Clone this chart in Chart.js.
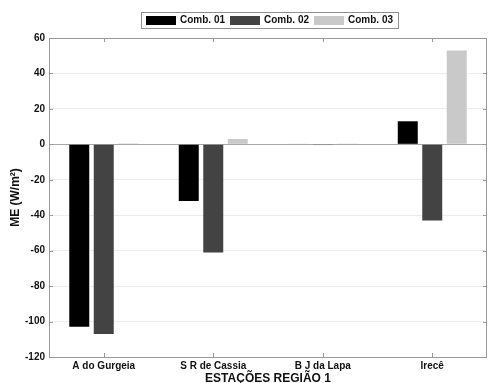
<!DOCTYPE html>
<html>
<head>
<meta charset="utf-8">
<script src="https://cdn.jsdelivr.net/npm/chart.js@4/dist/chart.umd.min.js"></script>
<style>
  html, body { margin: 0; padding: 0; background: #fff; }
  #wrap { width: 488px; height: 383px; position: relative; }
</style>
</head>
<body>
<div id="wrap"><canvas id="c" width="488" height="383"></canvas></div>
<script>
// Stations of region 1 and mean error per combination (W/m²)
const stations = ['A do Gurgeia', 'S R de Cassia', 'B J da Lapa', 'Irecê'];
const comb01 = [-103, -32, 0.3, 13];
const comb02 = [-107, -61, -0.4, -43];
const comb03 = [0.5, 3, 0.4, 53];
const seriesNames = ['Comb. 01', 'Comb. 02', 'Comb. 03'];
const seriesColors = ['#000000', '#434343', '#c9c9c9'];
const yTicks = { min: -120, max: 60, step: 20 };

const FONT = 'Liberation Sans, Arial, Helvetica, sans-serif';
const AXIS_COLOR = '#9a9a9a';

// Box around the plot, inward tick marks and the zero baseline
const framePlugin = {
  id: 'frame',
  beforeDatasetsDraw(chart) {
    const { ctx, chartArea: a, scales: { y } } = chart;
    ctx.save();
    ctx.strokeStyle = '#a8a8a8';
    ctx.lineWidth = 1;
    const y0 = Math.round(y.getPixelForValue(0)) + 0.5;
    ctx.beginPath();
    ctx.moveTo(a.left, y0);
    ctx.lineTo(a.right, y0);
    ctx.stroke();
    ctx.restore();
  },
  afterDatasetsDraw(chart) {
    const { ctx, chartArea: a, scales: { x, y } } = chart;
    ctx.save();
    ctx.strokeStyle = AXIS_COLOR;
    ctx.lineWidth = 1;
    ctx.strokeRect(Math.round(a.left) + 0.5, Math.round(a.top) + 0.5,
                   Math.round(a.right - a.left) - 1, Math.round(a.bottom - a.top));
    const len = 4;
    ctx.beginPath();
    stations.forEach((s, i) => {
      const px = Math.round(x.getPixelForValue(i)) + 0.5;
      ctx.moveTo(px, a.bottom); ctx.lineTo(px, a.bottom - len);
      ctx.moveTo(px, a.top); ctx.lineTo(px, a.top + len);
    });
    for (let v = yTicks.min; v <= yTicks.max; v += yTicks.step) {
      const py = Math.round(y.getPixelForValue(v)) + 0.5;
      ctx.moveTo(a.left, py); ctx.lineTo(a.left + len, py);
      ctx.moveTo(a.right, py); ctx.lineTo(a.right - len, py);
    }
    ctx.stroke();
    ctx.restore();
  }
};

// Legend in a framed box above the plot
const legendBoxPlugin = {
  id: 'legendBox',
  afterDraw(chart) {
    const { ctx } = chart;
    const ds = chart.data.datasets;
    ctx.save();
    ctx.font = 'bold 10px ' + FONT;
    const sw = 30, sh = 9, gapText = 4, gapItem = 5, pad = 5;
    const widths = ds.map(d => ctx.measureText(d.label).width);
    let total = pad * 2;
    widths.forEach((w, i) => { total += sw + gapText + w + (i < ds.length - 1 ? gapItem : 0); });
    const boxTop = 12, boxH = 16;
    const left = Math.round(270 - total / 2);
    ctx.fillStyle = '#fff';
    ctx.fillRect(left, boxTop, total, boxH);
    ctx.strokeStyle = '#8f8f8f';
    ctx.lineWidth = 1;
    ctx.strokeRect(left + 0.5, boxTop + 0.5, total, boxH);
    let cx = left + pad;
    const cy = boxTop + boxH / 2 + 0.5;
    ds.forEach((d, i) => {
      ctx.fillStyle = d.backgroundColor;
      ctx.fillRect(cx, Math.round(cy - sh / 2), sw, sh);
      cx += sw + gapText;
      ctx.fillStyle = '#111';
      ctx.textBaseline = 'middle';
      ctx.textAlign = 'left';
      ctx.fillText(d.label, cx, cy);
      cx += widths[i] + gapItem;
    });
    ctx.restore();
  }
};

const values = [comb01, comb02, comb03];

new Chart(document.getElementById('c'), {
  type: 'bar',
  data: {
    labels: stations,
    datasets: values.map((v, i) => ({
      label: seriesNames[i],
      data: v,
      backgroundColor: seriesColors[i],
      borderWidth: 0,
      categoryPercentage: 0.671,
      barPercentage: 0.816
    }))
  },
  options: {
    responsive: false,
    animation: false,
    layout: { padding: { left: 3, top: 38, right: 1, bottom: 0 } },
    plugins: {
      legend: { display: false },
      tooltip: { enabled: false }
    },
    scales: {
      x: {
        grid: { display: false, drawTicks: false },
        border: { display: false },
        ticks: {
          color: '#111',
          font: { family: FONT, size: 10, weight: 'bold' },
          padding: 3,
          maxRotation: 0
        },
        title: {
          display: true,
          text: 'ESTAÇÕES REGIÃO 1',
          color: '#111',
          font: { family: FONT, size: 12, weight: 'bold' },
          padding: { top: 0, bottom: -3 }
        },
        afterFit(scale) { scale.height = 26; }
      },
      y: {
        min: yTicks.min,
        max: yTicks.max,
        grid: { color: '#ececec', drawTicks: false },
        border: { display: false },
        ticks: {
          stepSize: yTicks.step,
          color: '#111',
          font: { family: FONT, size: 10, weight: 'bold' },
          padding: 4
        },
        title: {
          display: true,
          text: 'ME (W/m²)',
          color: '#111',
          font: { family: FONT, size: 12, weight: 'bold' },
          padding: { top: 5, bottom: 0 }
        },
        afterFit(scale) { scale.width = 46; }
      }
    }
  },
  plugins: [framePlugin, legendBoxPlugin]
});
</script>
</body>
</html>
